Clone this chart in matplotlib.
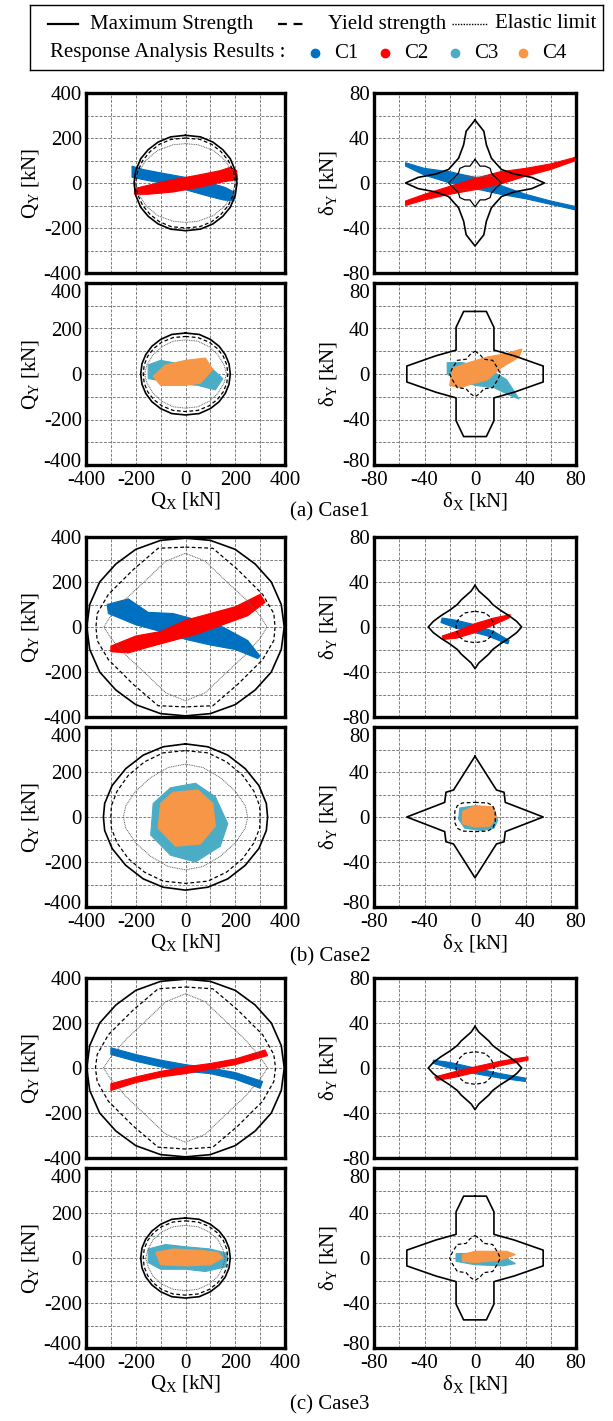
import matplotlib.pyplot as plt
from matplotlib.transforms import ScaledTranslation

plt.rcParams['font.family'] = 'Liberation Serif'
plt.rcParams['mathtext.fontset'] = 'custom'
plt.rcParams['mathtext.rm'] = 'Liberation Serif'
plt.rcParams['mathtext.it'] = 'Liberation Serif:italic'
plt.rcParams['axes.unicode_minus'] = False

BLUE = '#0070C0'
RED = '#FF0000'
TEAL = '#4BACC6'
ORANGE = '#F79646'

# ---- strength boundaries: first quadrant, from (0, top) to (right, 0) ----
# case1
c1_force_top_max = [(0, 212), (60, 205), (110, 182), (150, 148), (180, 108), (200, 55), (207, 0)]
c1_force_top_yld = [(0, 200), (58, 194), (105, 172), (142, 140), (172, 100), (192, 52), (200, 0)]
c1_force_top_ela = [(0, 175), (50, 170), (112, 145), (160, 100), (190, 45), (200, 0)]
c1_force_bot_max = [(0, 180), (55, 174), (100, 152), (135, 122), (160, 85), (175, 45), (180, 0)]
c1_force_bot_yld = [(0, 165), (50, 160), (95, 140), (128, 112), (152, 78), (166, 40), (170, 0)]
c1_force_bot_ela = [(0, 150), (50, 144), (95, 120), (130, 85), (155, 40), (165, 0)]
c1_disp_top_max = [(0, 56), (7, 46), (9, 34), (13, 22), (21, 12), (31, 8), (45, 5), (55, 0)]
c1_disp_top_yld = [(0, 21), (4, 15), (8, 15), (12, 13), (13, 9), (16, 5), (21, 0)]
c1_disp_top_ela = [(0, 6), (14, 6), (21, 0)]
c1_disp_bot_max = [(0, 55), (9, 55), (15, 41), (15, 21), (31, 16), (54, 7), (54, 0)]
c1_disp_bot_yld = [(0, 20), (4, 17), (7, 13), (14, 12), (18, 5), (20, 0)]
# case2
c2_force_top_max = [(0, 395), (100, 385), (200, 345), (280, 280), (345, 200), (385, 100), (397, 0)]
c2_force_top_yld = [(0, 355), (110, 350), (210, 255), (310, 145), (355, 60), (360, 0)]
c2_force_top_ela = [(0, 328), (80, 292), (162, 205), (240, 125), (300, 50), (328, 0)]
c2_force_bot_max = [(0, 325), (90, 312), (170, 275), (240, 215), (295, 140), (325, 60), (330, 0)]
c2_force_bot_yld = [(0, 295), (90, 285), (165, 245), (230, 185), (275, 115), (298, 50), (300, 0)]
c2_force_bot_ela = [(0, 235), (70, 220), (140, 175), (200, 115), (240, 50), (250, 0)]
c2_disp_top_max = [(0, 37), (3, 32), (7, 28), (11, 24), (14, 20), (20, 15), (27, 10), (33, 5), (37, 0)]
c2_disp_top_yld = [(0, 14), (8, 12.5), (12, 9), (14.5, 4), (15, 0)]
c2_disp_bot_max = [(0, 54), (17, 24), (23, 22), (24, 13), (54, 0)]
c2_disp_bot_yld = [(0, 13), (10, 12.5), (14, 10), (16, 5), (16, 0)]
# case3
c3_force_top_max = [(0, 395), (100, 385), (200, 345), (280, 280), (345, 200), (385, 100), (397, 0)]
c3_force_top_yld = [(0, 360), (110, 352), (210, 258), (310, 148), (355, 60), (362, 0)]
c3_force_top_ela = [(0, 330), (80, 294), (162, 207), (240, 126), (300, 50), (330, 0)]
c3_force_bot_max = [(0, 178), (55, 172), (100, 150), (135, 120), (160, 84), (175, 44), (180, 0)]
c3_force_bot_yld = [(0, 165), (50, 160), (95, 140), (128, 112), (152, 78), (166, 40), (170, 0)]
c3_force_bot_ela = [(0, 145), (50, 139), (95, 116), (130, 82), (150, 40), (160, 0)]
c3_disp_top_max = [(0, 37), (3, 32), (7, 28), (11, 24), (14, 20), (20, 15), (27, 10), (33, 5), (37, 0)]
c3_disp_top_yld = [(0, 14.5), (8, 13), (12, 9), (14.5, 4), (15, 0)]
c3_disp_bot_max = [(0, 55), (9, 55), (15, 41), (15, 21), (31, 16), (54, 7), (54, 0)]
c3_disp_bot_yld = [(0, 20), (4, 17), (7, 13), (14, 12), (18, 5), (20, 0)]

# ---- response clouds (outline of the plotted point clouds) ----
c1_force_top_C1 = [(-215, 75), (-170, 60), (-100, 45), (0, 25), (100, 0), (160, -20), (195, -40), (195, -80),
                   (150, -75), (80, -55), (0, -30), (-100, 0), (-170, 15), (-215, 25)]
c1_force_top_C2 = [(-205, -25), (-150, -10), (-50, 15), (50, 35), (140, 55), (180, 70), (205, 55), (210, 15),
                   (150, 5), (50, -20), (-50, -40), (-150, -50), (-205, -50)]
c1_force_bot_C3 = [(-150, 40), (-100, 60), (0, 40), (100, 30), (150, -20), (120, -70), (50, -50), (-50, -40),
                   (-150, -20)]
c1_force_bot_C4 = [(-130, -10), (-80, 40), (0, 60), (80, 70), (110, 20), (60, -40), (0, -50), (-100, -50)]
c1_disp_top_C1 = [(-55, 18), (-40, 13), (-20, 10), (0, 5), (20, -2), (40, -10), (60, -16), (80, -21), (80, -24),
                  (60, -19), (40, -14), (20, -10), (0, -5), (-20, 0), (-40, 7), (-55, 15)]
c1_disp_top_C2 = [(-55, -16), (-40, -10), (-20, -3), (0, 4), (20, 10), (40, 13), (60, 17), (80, 23), (80, 20),
                  (60, 12), (40, 6), (20, -1), (0, -6), (-20, -10), (-40, -15), (-55, -20)]
c1_disp_bot_C3 = [(-22, 10), (-10, 10), (10, 5), (25, -5), (35, -22), (30, -20), (15, -12), (0, -10), (-15, -5),
                  (-22, 0)]
c1_disp_bot_C4 = [(-20, -10), (-18, 5), (-5, 10), (10, 15), (25, 18), (37, 22), (35, 15), (20, 5), (10, -5),
                  (0, -8), (-12, -12)]

c2_force_top_C1 = [(-315, 100), (-230, 125), (-150, 65), (-50, 60), (50, 30), (150, 0), (250, -60), (300, -130),
                   (290, -140), (200, -100), (100, -80), (0, -55), (-100, -20), (-200, 10), (-310, 60)]
c2_force_top_C2 = [(-300, -85), (-200, -40), (-100, -20), (0, 30), (100, 60), (200, 90), (300, 145), (320, 110),
                   (250, 50), (150, 10), (50, -30), (-50, -60), (-150, -90), (-230, -115), (-300, -110)]
c2_force_bot_C3 = [(-130, 60), (-60, 130), (40, 150), (120, 90), (170, -30), (140, -130), (40, -200), (-60, -170),
                   (-140, -80)]
c2_force_bot_C4 = [(-100, 60), (-50, 110), (50, 120), (110, 60), (120, -40), (60, -120), (-40, -130), (-110, -50)]
c2_disp_top_C1 = [(-26, 8), (-15, 6), (0, 2), (15, -4), (27, -12), (26, -15), (10, -8), (0, -5), (-15, -1), (-27, 4)]
c2_disp_top_C2 = [(-26, -8), (-15, -4), (0, 3), (15, 8), (28, 11), (27, 8), (15, 2), (0, -5), (-15, -10), (-25, -11)]
c2_disp_bot_C3 = [(-12, 8), (0, 10), (15, 8), (18, -3), (15, -10), (5, -12), (-8, -10), (-13, -2)]
c2_disp_bot_C4 = [(-10, 5), (0, 10), (14, 9), (17, 0), (12, -8), (0, -9), (-10, -6)]

c3_force_top_C1 = [(-300, 90), (-200, 60), (-100, 35), (0, 15), (100, 0), (200, -20), (310, -60), (300, -90),
                   (200, -50), (100, -25), (0, -15), (-100, 5), (-200, 30), (-300, 60)]
c3_force_top_C2 = [(-300, -70), (-200, -40), (-100, -15), (0, 5), (100, 20), (200, 40), (320, 80), (330, 55),
                   (200, 15), (100, -5), (0, -25), (-100, -40), (-200, -65), (-300, -100)]
c3_force_bot_C3 = [(-150, 40), (-80, 60), (0, 50), (100, 40), (170, 20), (160, -40), (80, -60), (0, -50),
                   (-100, -50), (-150, -20)]
c3_force_bot_C4 = [(-120, 25), (-50, 40), (50, 35), (130, 25), (150, 0), (100, -30), (0, -35), (-100, -30)]
c3_disp_top_C1 = [(-33, 7), (-20, 5), (0, 0), (20, -5), (40, -9), (40, -12), (20, -9), (0, -5), (-20, 0), (-33, 4)]
c3_disp_top_C2 = [(-32, -8), (-15, -3), (0, 1), (20, 6), (42, 10), (42, 7), (20, 2), (0, -4), (-15, -8), (-30, -11)]
c3_disp_bot_C3 = [(-15, 4), (0, 4), (20, 3), (32, -5), (22, -7), (0, -6), (-15, -3)]
c3_disp_bot_C4 = [(-10, 3), (0, 6), (25, 6), (32, 3), (20, -2), (0, -4), (-10, -3)]


def full_curve(q):
    # first quadrant -> closed curve by symmetry
    pts = list(q) + [(x, -y) for x, y in q[::-1]] + [(-x, -y) for x, y in q] + [(-x, y) for x, y in q[::-1]]
    return [p[0] for p in pts], [p[1] for p in pts]


W, H = 613, 1421
fig = plt.figure(figsize=(W / 100, H / 100), dpi=100)


def pos(l, t, r, b):
    return [l / W, 1 - b / H, (r - l) / W, (b - t) / H]


def shift(lab, dy):
    lab.set_transform(lab.get_transform() + ScaledTranslation(0, dy / 100, fig.dpi_scale_trans))


def panel(box, kind, mx, yl, el, clouds, bottom, yl_solid=False):
    ax = fig.add_axes(pos(*box))
    lim = 400 if kind == 'F' else 80
    ax.set_xlim(-lim, lim)
    ax.set_ylim(-lim, lim)
    ax.set_xticks([-lim, -lim / 2, 0, lim / 2, lim])
    ax.set_yticks([-lim, -lim / 2, 0, lim / 2, lim])
    ax.set_xticks([-lim * 3 / 4, -lim / 4, lim / 4, lim * 3 / 4], minor=True)
    ax.set_yticks([-lim * 3 / 4, -lim / 4, lim / 4, lim * 3 / 4], minor=True)
    ax.grid(True, which='both', color='#7f7f7f', ls=(0, (3, 1.5)), lw=0.7)
    ax.set_axisbelow(True)
    ax.tick_params(which='both', length=0, labelsize=15, pad=3)
    ax.tick_params(axis='x', pad=4)
    for s in ax.spines.values():
        s.set_linewidth(2.4)
    for pts, col in clouds:
        ax.fill([p[0] for p in pts], [p[1] for p in pts], color=col, lw=0.8, zorder=2)
    x, y = full_curve(mx)
    ax.plot(x, y, color='black', lw=1.2, zorder=3)
    if yl is not None:
        x, y = full_curve(yl)
        ax.plot(x, y, color='black', lw=0.9, ls='-' if yl_solid else (0, (3, 2)), zorder=3)
    if el is not None:
        x, y = full_curve(el)
        ax.plot(x, y, color='#606060', lw=0.7, ls=(0, (1, 0.8)), zorder=3)
    if kind == 'F':
        ax.set_ylabel('Q$_\\mathrm{Y}$ [kN]', fontsize=15, labelpad=2)
        if bottom:
            ax.set_xlabel('Q$_\\mathrm{X}$ [kN]', fontsize=15, labelpad=0)
    else:
        ax.set_ylabel('δ$_\\mathrm{Y}$ [kN]', fontsize=15, labelpad=2)
        if bottom:
            ax.set_xlabel('δ$_\\mathrm{X}$ [kN]', fontsize=15, labelpad=0)
    if not bottom:
        ax.tick_params(labelbottom=False)
    else:
        # on the lower panel of each case the end labels sit a little inside
        fig.canvas.draw()
        labs = ax.get_yticklabels()
        shift(labs[-1], -8)
        shift(labs[0], 5)
    return ax


LX = (86, 285)
RX = (374, 576)
rows = [(93, 273), (283, 465), (537, 717), (727, 907), (978, 1158), (1168, 1348)]

panel((LX[0], rows[0][0], LX[1], rows[0][1]), 'F', c1_force_top_max, c1_force_top_yld, c1_force_top_ela,
      [(c1_force_top_C1, BLUE), (c1_force_top_C2, RED)], False)
panel((RX[0], rows[0][0], RX[1], rows[0][1]), 'D', c1_disp_top_max, c1_disp_top_yld, c1_disp_top_ela,
      [(c1_disp_top_C1, BLUE), (c1_disp_top_C2, RED)], False, yl_solid=True)
panel((LX[0], rows[1][0], LX[1], rows[1][1]), 'F', c1_force_bot_max, c1_force_bot_yld, c1_force_bot_ela,
      [(c1_force_bot_C3, TEAL), (c1_force_bot_C4, ORANGE)], True)
panel((RX[0], rows[1][0], RX[1], rows[1][1]), 'D', c1_disp_bot_max, c1_disp_bot_yld, None,
      [(c1_disp_bot_C3, TEAL), (c1_disp_bot_C4, ORANGE)], True)

panel((LX[0], rows[2][0], LX[1], rows[2][1]), 'F', c2_force_top_max, c2_force_top_yld, c2_force_top_ela,
      [(c2_force_top_C1, BLUE), (c2_force_top_C2, RED)], False)
panel((RX[0], rows[2][0], RX[1], rows[2][1]), 'D', c2_disp_top_max, c2_disp_top_yld, None,
      [(c2_disp_top_C1, BLUE), (c2_disp_top_C2, RED)], False)
panel((LX[0], rows[3][0], LX[1], rows[3][1]), 'F', c2_force_bot_max, c2_force_bot_yld, c2_force_bot_ela,
      [(c2_force_bot_C3, TEAL), (c2_force_bot_C4, ORANGE)], True)
panel((RX[0], rows[3][0], RX[1], rows[3][1]), 'D', c2_disp_bot_max, c2_disp_bot_yld, None,
      [(c2_disp_bot_C3, TEAL), (c2_disp_bot_C4, ORANGE)], True)

panel((LX[0], rows[4][0], LX[1], rows[4][1]), 'F', c3_force_top_max, c3_force_top_yld, c3_force_top_ela,
      [(c3_force_top_C1, BLUE), (c3_force_top_C2, RED)], False)
panel((RX[0], rows[4][0], RX[1], rows[4][1]), 'D', c3_disp_top_max, c3_disp_top_yld, None,
      [(c3_disp_top_C1, BLUE), (c3_disp_top_C2, RED)], False)
panel((LX[0], rows[5][0], LX[1], rows[5][1]), 'F', c3_force_bot_max, c3_force_bot_yld, c3_force_bot_ela,
      [(c3_force_bot_C3, TEAL), (c3_force_bot_C4, ORANGE)], True)
panel((RX[0], rows[5][0], RX[1], rows[5][1]), 'D', c3_disp_bot_max, c3_disp_bot_yld, None,
      [(c3_disp_bot_C3, TEAL), (c3_disp_bot_C4, ORANGE)], True)

# case captions
for txt, yy in [('(a) Case1', 512), ('(b) Case2', 957), ('(c) Case3', 1405)]:
    fig.text(330 / W, 1 - yy / H, txt, ha='center', va='center', fontsize=15)

# legend box (drawn in pixel coordinates of the box)
lg = fig.add_axes(pos(30, 5, 603, 70))
lg.set_xlim(30, 603)
lg.set_ylim(70, 5)
lg.set_xticks([])
lg.set_yticks([])
for s in lg.spines.values():
    s.set_linewidth(1.0)
lg.plot([48, 78], [24, 24], color='black', lw=1.6)
lg.text(90, 24, 'Maximum Strength', va='center', fontsize=15)
lg.plot([278, 306], [24, 24], color='black', lw=1.6, ls=(0, (4, 3)))
lg.text(328, 24, 'Yield strength', va='center', fontsize=15)
lg.plot([452, 487], [24, 24], color='black', lw=1.0, ls=(0, (1, 1)))
lg.text(495, 24, 'Elastic limit', va='center', fontsize=15)
lg.text(50, 53, 'Response Analysis Results :', va='center', fontsize=15)
for xx, col, name in [(315, BLUE, 'C1'), (385, RED, 'C2'), (455, TEAL, 'C3'), (523, ORANGE, 'C4')]:
    lg.plot([xx], [53], 'o', color=col, ms=6)
    lg.text(xx + 19, 53, name, va='center', fontsize=15)

fig.savefig('out.png', dpi=100)
